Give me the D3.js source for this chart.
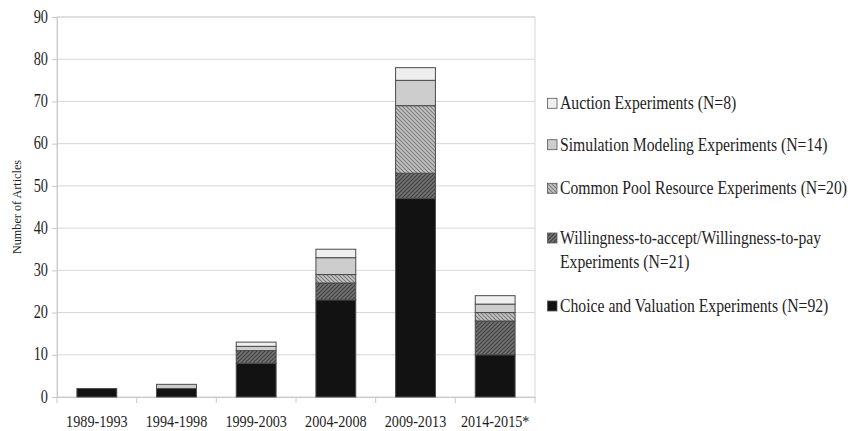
<!DOCTYPE html>
<html>
<head>
<meta charset="utf-8">
<script src="https://cdn.jsdelivr.net/npm/d3@7/dist/d3.min.js"></script>
<style>
  html, body { margin: 0; padding: 0; background: #fff; }
  svg { display: block; font-family: "Liberation Serif", "Times New Roman", serif; }
</style>
</head>
<body>
<svg id="chart" width="853" height="431"></svg>
<script>
// Publication periods (x categories)
const periods = ["1989-1993", "1994-1998", "1999-2003", "2004-2008", "2009-2013", "2014-2015*"];

// Articles per period for each experiment type
const choiceValuation = [2, 2, 8, 23, 47, 10];
const wtaWtp          = [0, 0, 3, 4, 6, 8];
const commonPool      = [0, 0, 0, 2, 16, 2];
const simulation      = [0, 1, 1, 4, 6, 2];
const auction         = [0, 0, 1, 2, 3, 2];

// Series, bottom of the stack first
const seriesKeys = ["choice", "wta", "cpr", "sim", "auction"];
const seriesLabels = {
  auction: ["Auction Experiments (N=8)"],
  sim: ["Simulation Modeling Experiments (N=14)"],
  cpr: ["Common Pool Resource Experiments (N=20)"],
  wta: ["Willingness-to-accept/Willingness-to-pay", "Experiments (N=21)"],
  choice: ["Choice and Valuation Experiments (N=92)"]
};

// y-axis ticks
const yTicks = [0, 10, 20, 30, 40, 50, 60, 70, 80, 90];

const rows = periods.map((p, i) => ({
  period: p,
  choice: choiceValuation[i],
  wta: wtaWtp[i],
  cpr: commonPool[i],
  sim: simulation[i],
  auction: auction[i]
}));

const svg = d3.select("#chart");
const plot = { left: 57, right: 535, top: 17, bottom: 397 };
const textStretch = 1.25;
const serif = '"Liberation Serif", "Times New Roman", serif';

const x = d3.scaleBand().domain(periods).range([plot.left, plot.right])
  .paddingInner(0.5).paddingOuter(0.25);
const y = d3.scaleLinear().domain([0, 90]).range([plot.bottom, plot.top]);

// Fill patterns
const defs = svg.append("defs");
const wtaPat = defs.append("pattern").attr("id", "pat-wta")
  .attr("patternUnits", "userSpaceOnUse").attr("width", 4).attr("height", 4);
wtaPat.append("rect").attr("width", 4).attr("height", 4).attr("fill", "#747474");
wtaPat.append("path").attr("d", "M-1,1 l2,-2 M0,4 l4,-4 M3,5 l2,-2")
  .attr("stroke", "#3e3e3e").attr("stroke-width", 1.2);

const cprPat = defs.append("pattern").attr("id", "pat-cpr")
  .attr("patternUnits", "userSpaceOnUse").attr("width", 4).attr("height", 4);
cprPat.append("rect").attr("width", 4).attr("height", 4).attr("fill", "#c4c4c4");
cprPat.append("path").attr("d", "M-1,3 l2,2 M0,0 l4,4 M3,-1 l2,2")
  .attr("stroke", "#7a7a7a").attr("stroke-width", 1.1);

const fills = {
  choice: "#121212",
  wta: "url(#pat-wta)",
  cpr: "url(#pat-cpr)",
  sim: "#cdcdcd",
  auction: "#efefef"
};

// Plot frame and gridlines
svg.append("rect")
  .attr("x", plot.left).attr("y", plot.top)
  .attr("width", plot.right - plot.left).attr("height", plot.bottom - plot.top)
  .attr("fill", "none").attr("stroke", "#d6d6d6").attr("stroke-width", 1);

svg.append("g").selectAll("line").data(yTicks.filter(t => t > 0)).join("line")
  .attr("x1", plot.left).attr("x2", plot.right)
  .attr("y1", d => y(d)).attr("y2", d => y(d))
  .attr("stroke", "#d6d6d6").attr("stroke-width", 1);

// Axes
const yAxis = svg.append("g").attr("transform", `translate(${plot.left},0)`)
  .call(d3.axisLeft(y).tickValues(yTicks).tickSize(5).tickPadding(4).tickFormat(d3.format("d")))
  .attr("font-family", serif);
yAxis.select(".domain").attr("stroke", "#c8c8c8");
yAxis.selectAll(".tick line").attr("stroke", "#c8c8c8");
yAxis.selectAll(".tick text")
  .attr("fill", "#1e1e1e").attr("font-size", 14.3)
  .attr("dy", null).attr("y", 0)
  .attr("transform", `translate(0,5.2) scale(1,${textStretch})`);

const bandEdges = periods.map(p => x(p) - x.step() * x.paddingInner() / 2).concat([plot.right]);
const xAxis = svg.append("g").attr("transform", `translate(0,${plot.bottom})`)
  .call(d3.axisBottom(x).tickSize(0).tickPadding(0))
  .attr("font-family", serif);
xAxis.select(".domain").attr("stroke", "#c8c8c8");
xAxis.selectAll(".tick text")
  .attr("fill", "#1e1e1e").attr("font-size", 14.2)
  .attr("y", 0).attr("dy", null)
  .attr("transform", `translate(0,30) scale(1,${textStretch})`);
svg.append("g").selectAll("line").data(bandEdges).join("line")
  .attr("x1", d => d).attr("x2", d => d)
  .attr("y1", plot.bottom).attr("y2", plot.bottom + 6)
  .attr("stroke", "#c8c8c8");

// Axis title
svg.append("text")
  .attr("transform", `translate(21,207) rotate(-90)`)
  .attr("text-anchor", "middle")
  .attr("font-size", 12.2).attr("fill", "#1e1e1e")
  .text("Number of Articles");

// Stacked bars
const stacked = d3.stack().keys(seriesKeys)(rows);
const layers = svg.append("g").selectAll("g").data(stacked).join("g")
  .attr("fill", d => fills[d.key]);
layers.selectAll("rect").data(d => d.filter(s => s[1] - s[0] > 0)).join("rect")
  .attr("x", d => x(d.data.period))
  .attr("width", x.bandwidth())
  .attr("y", d => y(d[1]))
  .attr("height", d => y(d[0]) - y(d[1]))
  .attr("stroke", "#4a4a4a").attr("stroke-width", 1);

// Legend
const legendRows = [
  { key: "auction", cy: 103.3 },
  { key: "sim", cy: 144.7 },
  { key: "cpr", cy: 188.3 },
  { key: "wta", cy: 238 },
  { key: "choice", cy: 306 }
];
const legend = svg.append("g");
legendRows.forEach(r => {
  legend.append("rect")
    .attr("x", 547.5).attr("y", r.cy - 5).attr("width", 9.5).attr("height", 10)
    .attr("fill", fills[r.key]).attr("stroke", "#555").attr("stroke-width", 0.8);
  seriesLabels[r.key].forEach((line, j) => {
    legend.append("text")
      .attr("transform", `translate(560,${r.cy + 6 + j * 23.7}) scale(1,${textStretch})`)
      .attr("font-size", 15.7).attr("fill", "#1e1e1e")
      .text(line);
  });
});
</script>
</body>
</html>
